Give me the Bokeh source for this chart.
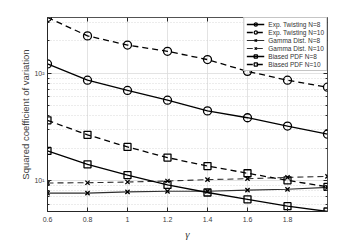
from bokeh.plotting import figure
from bokeh.models import (Legend, LegendItem, FixedTicker, LogAxis, LinearAxis,
                          CustomJSTickFormatter)
from bokeh.embed import file_html
from bokeh.resources import INLINE

gamma = [0.6, 0.8, 1.0, 1.2, 1.4, 1.6, 1.8, 2.0]
exp_twist_n8 = [122, 86, 69, 56, 44.5, 38.4, 32.1, 27.0]
exp_twist_n10 = [331, 223, 183, 160, 134, 104, 86, 74]
gamma_n8 = [7.6, 7.6, 7.8, 7.9, 7.9, 8.1, 8.25, 8.6]
gamma_n10 = [9.45, 9.5, 9.65, 9.86, 10.15, 10.36, 10.65, 10.9]
biased_n8 = [18.8, 14.1, 11.2, 9.06, 7.7, 6.65, 5.74, 5.12]
biased_n10 = [36.3, 26.6, 20.5, 16.3, 13.6, 11.65, 10.0, 8.7]
x_ticks = [0.6, 0.8, 1.0, 1.2, 1.4, 1.6, 1.8]
y_major = [10, 100]
y_minor = [5, 6, 7, 8, 9, 20, 30, 40, 50, 60, 70, 80, 90, 200, 300]

series = [
    ("Exp. Twisting N=8", exp_twist_n8, "solid", "circle"),
    ("Exp. Twisting N=10", exp_twist_n10, "6 4", "circle"),
    ("Gamma Dist. N=8", gamma_n8, "solid", "x"),
    ("Gamma Dist. N=10", gamma_n10, "6 4", "x"),
    ("Biased PDF N=8", biased_n8, "solid", "square"),
    ("Biased PDF N=10", biased_n10, "6 4", "square"),
]

all_vals = exp_twist_n8 + exp_twist_n10 + gamma_n8 + gamma_n10 + biased_n8 + biased_n10

p = figure(width=361, height=242, y_axis_type="log",
           x_range=(gamma[0], gamma[-1]), y_range=(min(all_vals), max(all_vals)),
           output_backend="svg", toolbar_location=None,
           min_border_left=47, min_border_right=34, min_border_top=17, min_border_bottom=28)

p.outline_line_color = "#262626"
p.outline_line_width = 0.8
p.background_fill_color = "white"

FONT = "Liberation Sans"
AX = "#262626"

y_ticker = FixedTicker(ticks=y_major, minor_ticks=y_minor)
sup = CustomJSTickFormatter(code="""
const s = {'0':'\u2070','1':'\u00b9','2':'\u00b2','3':'\u00b3'};
const e = Math.round(Math.log10(tick));
return '10' + String(e).split('').map(c => s[c] || c).join('');
""")

# axes
p.xaxis.ticker = FixedTicker(ticks=x_ticks)
p.xaxis.formatter = CustomJSTickFormatter(code="return tick.toFixed(1).replace(/\\.0$/, '');")
p.yaxis.ticker = y_ticker
p.yaxis.formatter = sup
for ax in [p.xaxis[0], p.yaxis[0]]:
    ax.axis_line_color = AX
    ax.major_tick_in = 4
    ax.major_tick_out = 0
    ax.minor_tick_in = 2
    ax.minor_tick_out = 0
    ax.major_tick_line_color = AX
    ax.minor_tick_line_color = AX
    ax.major_label_text_font = FONT
    ax.major_label_text_font_size = "7px"
    ax.major_label_text_color = "#404040"
    ax.major_label_standoff = 5
p.xaxis.axis_label = "γ"
p.xaxis.axis_label_text_font = "Liberation Serif"
p.xaxis.axis_label_text_font_style = "italic"
p.xaxis.axis_label_text_font_size = "11px"
p.xaxis.axis_label_text_color = "#404040"
p.xaxis.axis_label_standoff = 3
p.yaxis.axis_label = "Squared coefficient of variation"
p.yaxis.axis_label_text_font = FONT
p.yaxis.axis_label_text_font_style = "normal"
p.yaxis.axis_label_text_font_size = "9.5px"
p.yaxis.axis_label_text_color = "#404040"
p.yaxis.axis_label_standoff = 0
p.yaxis.major_label_standoff = 3

# right / top axes for inward ticks (no labels)
blank = CustomJSTickFormatter(code="return '';")
ra = LogAxis(ticker=FixedTicker(ticks=y_major, minor_ticks=y_minor), formatter=blank)
ta = LinearAxis(ticker=FixedTicker(ticks=x_ticks), formatter=blank)
for ax in [ra, ta]:
    ax.axis_line_color = None
    ax.major_tick_in = 4
    ax.major_tick_out = 0
    ax.minor_tick_in = 2
    ax.minor_tick_out = 0
    ax.major_tick_line_color = AX
    ax.minor_tick_line_color = AX
    ax.major_label_standoff = 0
p.add_layout(ra, "right")
p.add_layout(ta, "above")

# grids
p.xgrid.ticker = FixedTicker(ticks=gamma)
p.xgrid.grid_line_color = "#dcdcdc"
p.xgrid.grid_line_width = 0.8
p.ygrid.ticker = y_ticker
p.ygrid.grid_line_color = "#dcdcdc"
p.ygrid.grid_line_width = 0.8
p.ygrid.minor_grid_line_color = "#c8c8c8"
p.ygrid.minor_grid_line_dash = "1 2"
p.ygrid.minor_grid_line_width = 0.7

items = []
for label, vals, dash, marker in series:
    col = "black" if marker != "x" else "#303030"
    lw = 1.3 if marker != "x" else 1.1
    r1 = p.line(gamma, vals, line_color=col, line_width=lw, line_dash=dash)
    size = {"circle": 8, "square": 7, "x": 6}[marker]
    r2 = p.scatter(gamma, vals, marker=marker, size=size, line_color="black",
                   line_width=1.3, fill_color=None)
    items.append(LegendItem(label=label, renderers=[r1, r2]))

legend = Legend(items=items, location="top_right")
legend.background_fill_color = "white"
legend.background_fill_alpha = 1
legend.border_line_color = "#8c8c8c"
legend.border_line_width = 0.8
legend.label_text_font = FONT
legend.label_text_font_size = "6.5px"
legend.label_text_color = "#333333"
legend.glyph_width = 18
legend.glyph_height = 8
legend.label_height = 8
legend.label_standoff = 4
legend.spacing = 0
legend.padding = 2
legend.margin = 0
p.add_layout(legend)

open("out.html", "w").write(file_html(p, INLINE))
